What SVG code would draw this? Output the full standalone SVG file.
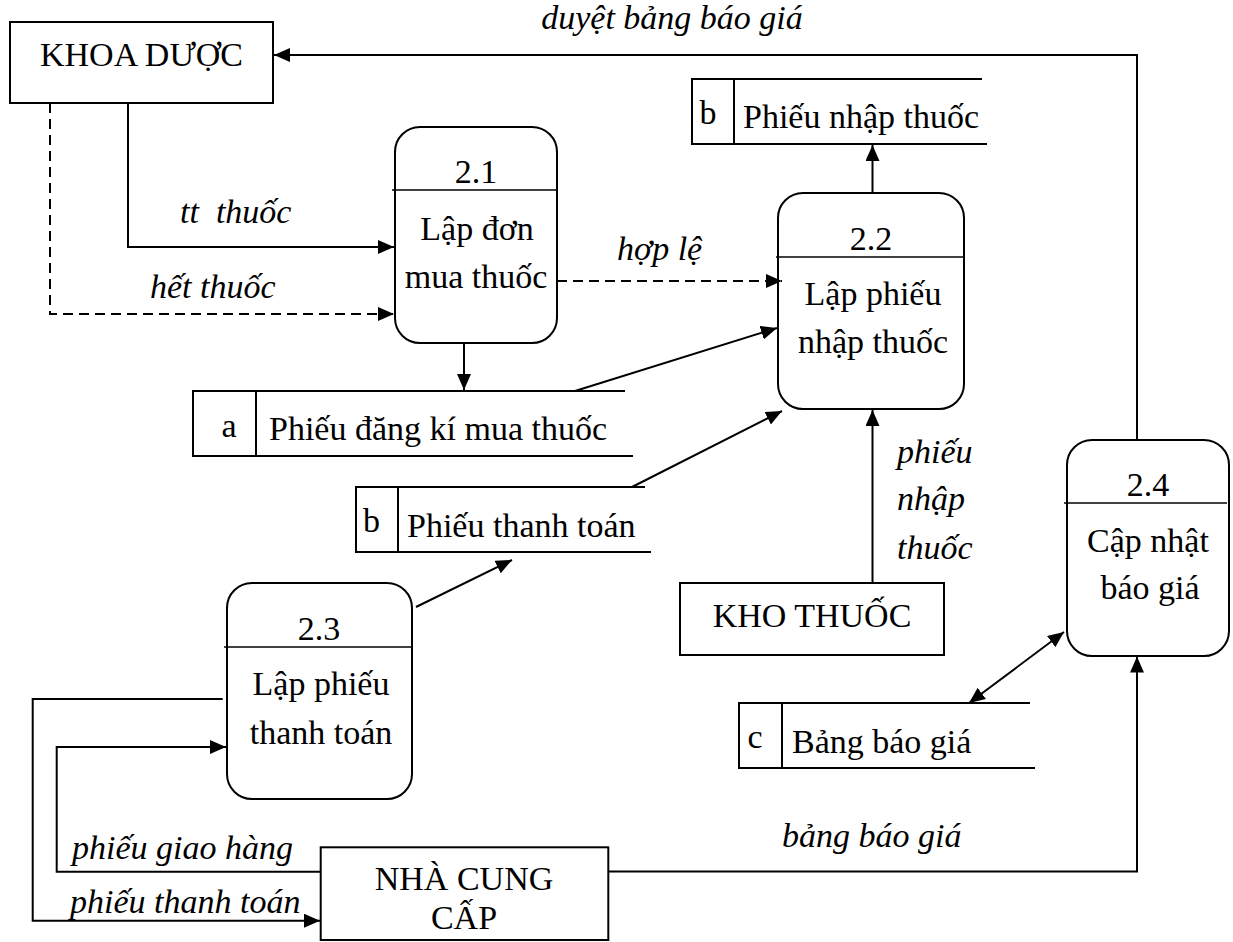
<svg xmlns="http://www.w3.org/2000/svg" width="1233" height="942" viewBox="0 0 1233 942">
  <style>
    .bg { fill: #ffffff; }
    .box { fill: none; stroke: #000; stroke-width: 2; }
    .ln { fill: none; stroke: #000; stroke-width: 2; }
    .thin { stroke-width: 1.6; }
    .dash { stroke-dasharray: 10 6; }
    text { font-family: "Liberation Serif", "Times New Roman", serif; font-size: 34px; fill: #000; }
    .it { font-style: italic; }
    .m { text-anchor: middle; }
  </style>
  <defs>
    <marker id="arrow" markerUnits="userSpaceOnUse" markerWidth="16" markerHeight="14" refX="16" refY="7" orient="auto-start-reverse">
      <path d="M0,0 L16,7 L0,14 Z" fill="#000"/>
    </marker>
  </defs>

  <rect class="bg" x="0" y="0" width="1233" height="942"/>

  <!-- External entities -->
  <g id="khoa-duoc">
    <rect class="box" x="10" y="22" width="263" height="81"/>
    <text class="m" x="141.5" y="66">KHOA DƯỢC</text>
  </g>
  <g id="kho-thuoc">
    <rect class="box" x="680" y="583" width="264" height="72"/>
    <text class="m" x="812" y="627">KHO THUỐC</text>
  </g>
  <g id="nha-cung-cap">
    <rect class="box" x="320.7" y="847.3" width="287.6" height="92.7"/>
    <text class="m" x="464" y="890">NHÀ CUNG</text>
    <text class="m" x="464" y="929">CẤP</text>
  </g>

  <!-- Processes -->
  <g id="p2-1">
    <rect class="box" x="395" y="127" width="162" height="216" rx="25" ry="25"/>
    <path class="ln thin" d="M392,190 H556"/>
    <text class="m" x="476" y="183">2.1</text>
    <text class="m" x="477" y="240">Lập đơn</text>
    <text class="m" x="476" y="288">mua thuốc</text>
  </g>
  <g id="p2-2">
    <rect class="box" x="778" y="193" width="186" height="216" rx="25" ry="25"/>
    <path class="ln thin" d="M776,257 H963"/>
    <text class="m" x="871" y="250">2.2</text>
    <text class="m" x="873" y="305">Lập phiếu</text>
    <text class="m" x="873" y="353">nhập thuốc</text>
  </g>
  <g id="p2-3">
    <rect class="box" x="227" y="583" width="185" height="216" rx="25" ry="25"/>
    <path class="ln thin" d="M224,647 H411"/>
    <text class="m" x="319" y="640">2.3</text>
    <text class="m" x="321" y="695">Lập phiếu</text>
    <text class="m" x="321" y="744">thanh toán</text>
  </g>
  <g id="p2-4">
    <rect class="box" x="1067" y="440" width="162" height="216" rx="25" ry="25"/>
    <path class="ln thin" d="M1064,503 H1227"/>
    <text class="m" x="1148" y="496">2.4</text>
    <text class="m" x="1148" y="552">Cập nhật</text>
    <text class="m" x="1150" y="599">báo giá</text>
  </g>

  <!-- Data stores -->
  <g id="store-a">
    <path class="ln" d="M625,391 H193 V456 H633"/>
    <path class="ln" d="M256,391 V456"/>
    <text class="m" x="229" y="437">a</text>
    <text x="269" y="440">Phiếu đăng kí mua thuốc</text>
  </g>
  <g id="store-b-nhap">
    <path class="ln" d="M982,79 H692 V144 H987"/>
    <path class="ln" d="M734,79 V144"/>
    <text class="m" x="708" y="124">b</text>
    <text x="743" y="128">Phiếu nhập thuốc</text>
  </g>
  <g id="store-b-thanh-toan">
    <path class="ln" d="M645,487 H356 V552 H651"/>
    <path class="ln" d="M398,487 V552"/>
    <text class="m" x="371.5" y="532">b</text>
    <text x="407" y="537">Phiếu thanh toán</text>
  </g>
  <g id="store-c">
    <path class="ln" d="M1030,703 H739 V768 H1035"/>
    <path class="ln" d="M782,703 V768"/>
    <text class="m" x="755" y="748">c</text>
    <text x="792" y="753">Bảng báo giá</text>
  </g>

  <!-- Data flows -->
  <g id="connectors">
    <path class="ln" d="M1137,440 V55 H274" marker-end="url(#arrow)"/>
    <path class="ln" d="M128,103 V247 H394" marker-end="url(#arrow)"/>
    <path class="ln dash" d="M50,103 V314 H394" marker-end="url(#arrow)"/>
    <path class="ln dash" d="M557,281 H782" marker-end="url(#arrow)"/>
    <path class="ln" d="M464,343 V390" marker-end="url(#arrow)"/>
    <path class="ln" d="M575,391 L777,328" marker-end="url(#arrow)"/>
    <path class="ln" d="M632,487 L782,411" marker-end="url(#arrow)"/>
    <path class="ln" d="M872.5,193 V145" marker-end="url(#arrow)"/>
    <path class="ln" d="M872.5,583 V410" marker-end="url(#arrow)"/>
    <path class="ln" d="M416,607 L512,560" marker-end="url(#arrow)"/>
    <path class="ln" d="M969,703 L1064,632" marker-start="url(#arrow)" marker-end="url(#arrow)"/>
    <path class="ln" d="M608,871.5 H1137 V656.5" marker-end="url(#arrow)"/>
    <path class="ln" d="M320.7,871.7 H56.7 V747 H226" marker-end="url(#arrow)"/>
    <path class="ln" d="M222.7,699 H32.7 V920.7 H320" marker-end="url(#arrow)"/>

    <text class="it m" x="672" y="29">duyệt bảng báo giá</text>
    <text class="it" x="180" y="223" xml:space="preserve">tt  thuốc</text>
    <text class="it" x="150" y="298">hết thuốc</text>
    <text class="it" x="617" y="260">hợp lệ</text>
    <text class="it" x="897" y="463">phiếu</text>
    <text class="it" x="897" y="510">nhập</text>
    <text class="it" x="897" y="559">thuốc</text>
    <text class="it" x="782" y="847">bảng báo giá</text>
    <text class="it" x="72" y="859">phiếu giao hàng</text>
    <text class="it" x="70" y="913">phiếu thanh toán</text>
  </g>
</svg>
